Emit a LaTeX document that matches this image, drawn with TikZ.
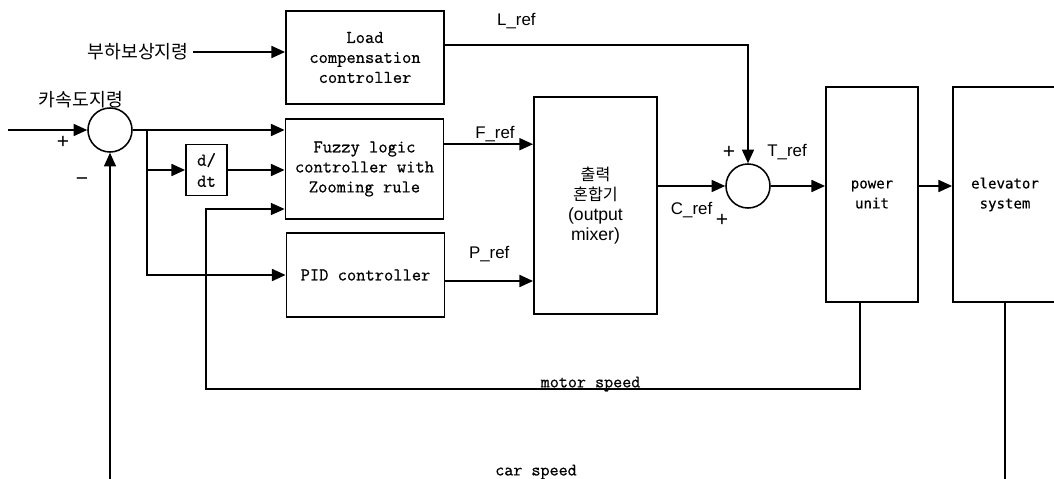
\documentclass[tikz,border=0pt]{standalone}
\usepackage{fontspec}
\usepackage{tikz}
\usetikzlibrary{arrows.meta,positioning}
\newfontfamily\korfont{Noto Sans CJK KR}
\newfontfamily\labfont{Liberation Sans}
\newfontfamily\sansmono[FakeBold=0.4]{DejaVu Sans Mono}
\newfontfamily\sermono[FakeBold=0.6]{Latin Modern Mono}

\begin{document}
\begin{tikzpicture}[
    x=0.025cm, y=-0.025cm,
    blk/.style={rectangle, draw, line width=1.3pt, minimum width=3.95cm, align=center, font=\fontsize{12.8}{14.2}\selectfont\sermono},
    sumpt/.style={circle, draw, line width=1.1pt, minimum size=1.1cm, inner sep=0pt},
    lbl/.style={font=\fontsize{12}{14}\selectfont\labfont, inner sep=1pt},
    kor/.style={font=\fontsize{13}{15}\selectfont\korfont},
    sgn/.style={font=\fontsize{15}{16}\selectfont\labfont, inner sep=0pt},
    ttlbl/.style={font=\fontsize{12.5}{14}\selectfont\sermono, inner sep=0pt},
    arrow/.style={-{Triangle[length=0.34cm, width=0.3cm]}, line width=1.2pt},
    fb/.style={line width=0.8pt}
]
    \useasboundingbox (0,0) rectangle (1054,479);

    % controllers
    \node[blk, minimum height=2.325cm] (load) at (365,57.5) {Load\\compensation\\ controller};
    \node[blk, minimum height=2.5cm] (fuzzy) at (364.5,169) {Fuzzy logic\\controller with\\Zooming rule};
    \node[blk, minimum height=2.1cm] (pid) at (365.5,275) {PID controller};
    \node[blk, minimum width=1.025cm, minimum height=1.275cm, inner sep=1pt, font=\fontsize{13}{15}\selectfont\sermono] (ddt) at (206.5,170) {d/\\dt};
    \node[blk, minimum width=3.075cm, minimum height=5.425cm, font=\fontsize{12.5}{14.2}\selectfont\labfont] (mixer) at (595.5,205.5)
        {{\fontsize{11.5}{14.2}\selectfont\korfont 출력}\\{\fontsize{11.5}{14.2}\selectfont\korfont 혼합기}\\(output\\mixer)};

    % plant
    \node[blk, minimum width=2.3cm, minimum height=5.375cm, font=\fontsize{10}{14.2}\selectfont\sansmono] (power) at (872,194.5) {power\\unit};
    \node[blk, minimum width=2.6cm, minimum height=5.375cm, font=\fontsize{10}{14.2}\selectfont\sansmono] (elev) at (1005,194.5) {elevator\\system};

    % summing points and commands
    \node[sumpt] (sum1) at (110,130) {};
    \node[sumpt] (sum2) at (748,186) {};
    \node[kor] (lcmd) at (138,52) {부하보상지령};
    \node[kor] (acmd) at (81,100) {카속도지령};
    \node[sgn] (plus1) at (63,142) {+};
    \node[sgn] (minus1) at (82,182) {−};
    \node[sgn] (plus2) at (729,152) {+};
    \node[sgn] (plus3) at (722,220) {+};

    \coordinate (start) at (8,130);
    \coordinate (br) at (147,130);
    \coordinate (mscorner) at (206,389);
    \coordinate (cscorner) at (1006,495);
    \node[ttlbl] (carspd) at (536,472) {car speed};

    % forward paths
    \draw[arrow] (start) -- (sum1);
    \draw[arrow] (sum1.east) -- (sum1.east -| fuzzy.west);
    \draw[arrow] (br) |- (pid.west);
    \draw[arrow] (br |- ddt.west) -- (ddt.west);
    \draw[arrow] (ddt.east) -- (ddt.east -| fuzzy.west);
    \draw[arrow] (lcmd.east) -- (lcmd.east -| load.west);
    \draw[arrow] ([yshift=0.31cm]load.east) -| node[lbl, pos=0.118, above=0.34cm] (lref) {L\_ref} (sum2.north);
    \draw[arrow] ([yshift=0.62cm]fuzzy.east) -- node[lbl, pos=0.57, above] (fref) {F\_ref} ([yshift=0.62cm]fuzzy.east -| mixer.west);
    \draw[arrow] ([yshift=-0.15cm]pid.east) -- node[lbl, above=0.42cm] (pref) {P\_ref} ([yshift=-0.15cm]pid.east -| mixer.west);
    \draw[arrow] (sum2.west -| mixer.east) -- node[lbl, below=0.36cm] (cref) {C\_ref} (sum2.west);
    \draw[arrow] (sum2.east) -- node[lbl, pos=0.3, above=0.59cm] (tref) {T\_ref} (sum2.east -| power.west);
    \draw[arrow] (sum2.east -| power.east) -- (sum2.east -| elev.west);

    % feedback
    \draw[arrow, fb] ([xshift=-0.3cm]power.south) |- node[ttlbl, pos=0.706, above, yshift=-2pt] (mspd) {motor speed} (mscorner) |- ([yshift=-1cm]fuzzy.west);
    \draw[arrow, fb] (elev.south) |- (cscorner) -| (sum1.south);
\end{tikzpicture}
\end{document}
